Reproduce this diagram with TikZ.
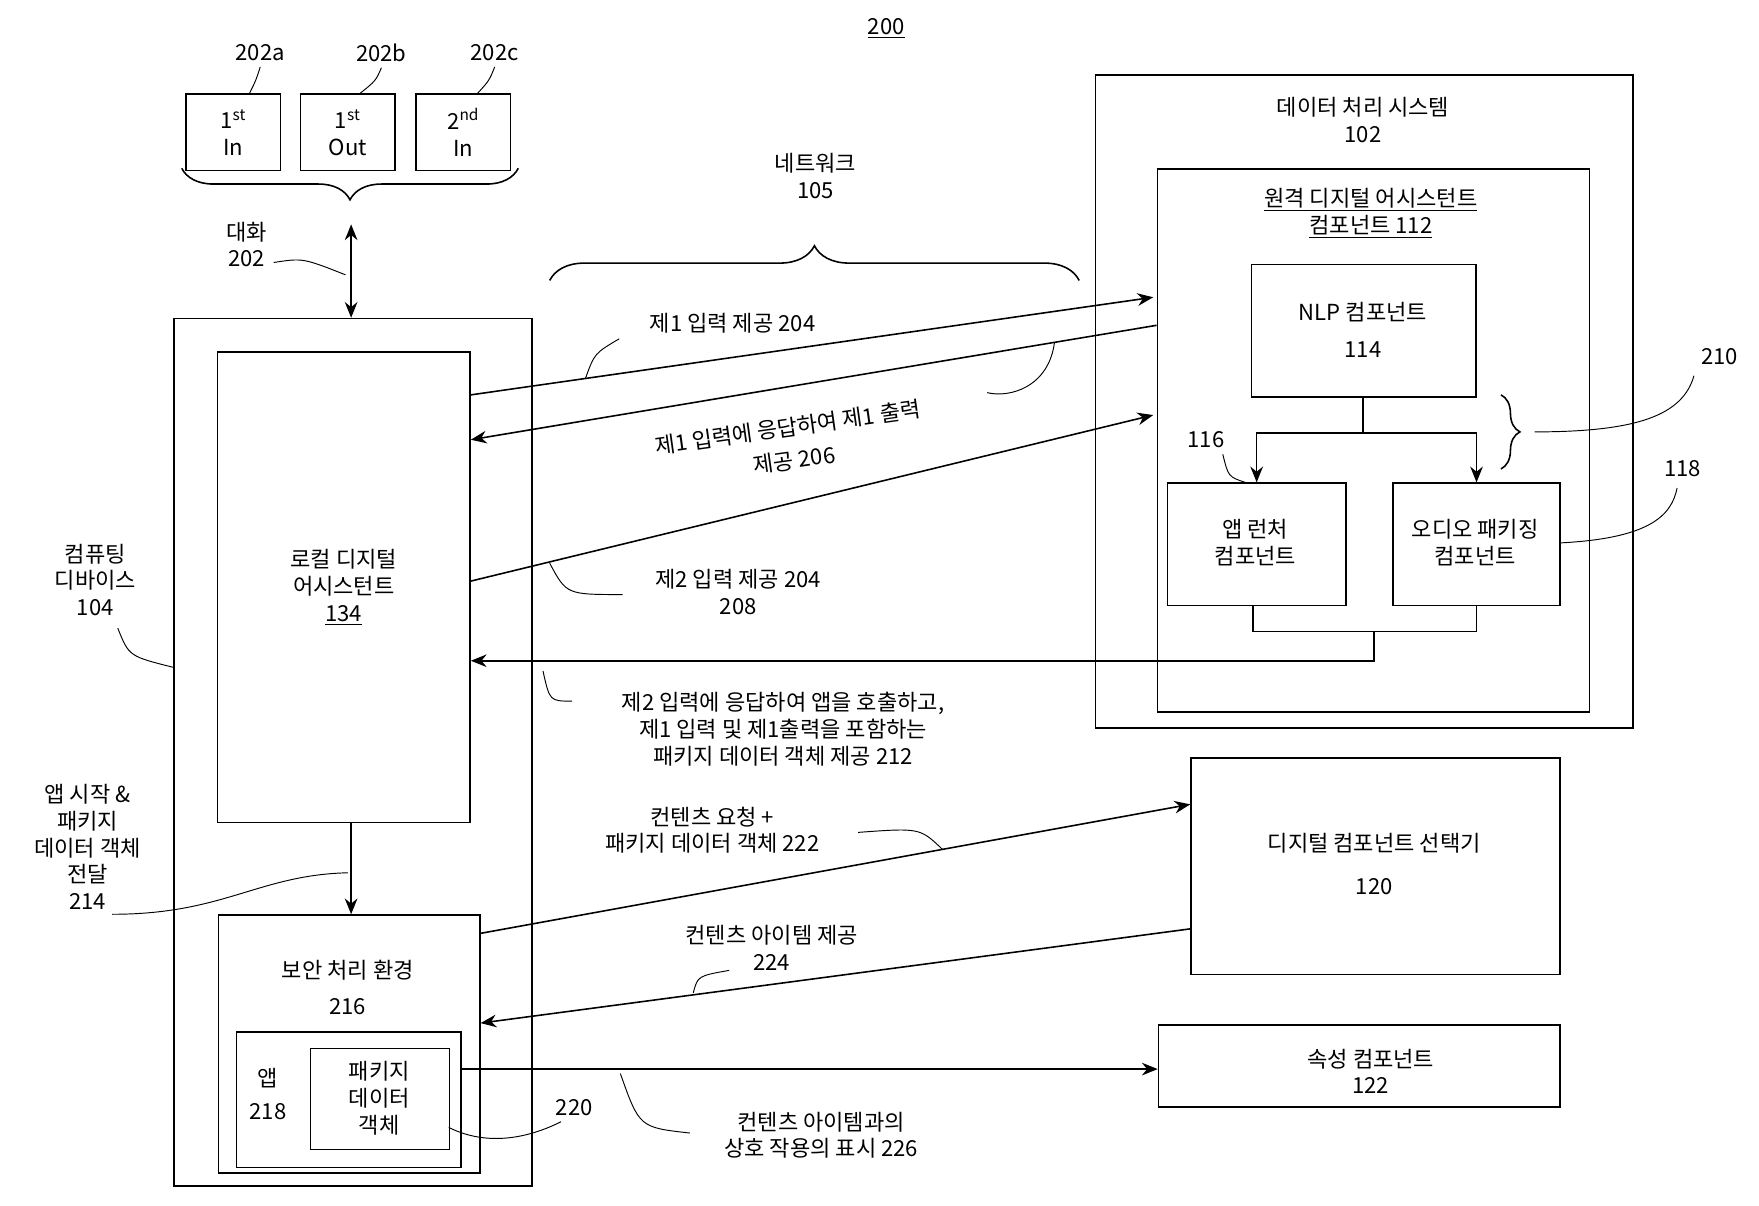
\documentclass[tikz,border=0pt]{standalone}
\usepackage{fontspec}
\setmainfont{Noto Sans CJK KR}
\usetikzlibrary{positioning,decorations.pathreplacing,arrows.meta}
\begin{document}
\begin{tikzpicture}[x=0.25mm,y=-0.25mm, line width=1pt,
    every node/.style={font=\fontsize{14}{17}\selectfont, align=center},
    box/.style={draw, inner sep=0pt},
    arr/.style={-{Stealth[length=10pt,width=8pt]}},
    lead/.style={line width=0.6pt}]

    % bounding box
    \useasboundingbox (0,0) rectangle (1568,1075);

    % conversation boxes
    \node (in1) [box, minimum width=21mm, minimum height=17mm] at (208,118) {1\textsuperscript{st}\\In};
    \node (out1) [box, minimum width=21mm, minimum height=17mm] at (310,118) {1\textsuperscript{st}\\Out};
    \node (in2) [box, minimum width=21mm, minimum height=17mm] at (413,118) {2\textsuperscript{nd}\\In};
    \node (l202a) at (232,47) {202a};
    \node (l202b) at (340,47) {202b};
    \node (l202c) at (441,47) {202c};
    \draw[lead] (l202a.south) .. controls (228,72) .. (222,84);
    \draw[lead] (l202b.south) .. controls (335,72) .. (320,84);
    \draw[lead] (l202c.south) .. controls (436,72) .. (425,84);
    \node at (790,25) {\underline{200}};
    \draw[decorate, decoration={brace, mirror, amplitude=20pt}] (162,150) -- (462,150);

    % computing device
    \node (dev) [box, minimum width=79.75mm, minimum height=193.25mm] at (314.5,670.5) {};
    \node (lda) [box, minimum width=56.25mm, minimum height=104.75mm] at (306.5,523.5) {로컬 디지털\\어시스턴트\\\underline{134}};
    \node (sec) [box, minimum width=58.25mm, minimum height=57.5mm, anchor=north west] at (194,815) {};
    \node at (310,880) {보안 처리 환경\\[6pt]216};
    \node (appbox) [box, minimum width=50mm, minimum height=30.25mm, anchor=north west] at (210,919) {};
    \node at (239,975) {앱\\[4pt]218};
    \node (pkg) [box, minimum width=31mm, minimum height=22.5mm, anchor=north west] at (276,934) {};
    \node at (338,979) {패키지\\데이터\\객체};

    % data processing system
    \node (dps) [box, minimum width=119.75mm, minimum height=145.5mm, anchor=north west] at (976,66) {};
    \node at (1215,107) {데이터 처리 시스템\\102};
    \node (rda) [box, minimum width=96.25mm, minimum height=121mm, anchor=north west] at (1031,150) {};
    \node at (1222,190) {\underline{원격 디지털 어시스턴트}\\\underline{컴포넌트 112}};
    \node (nlp) [box, minimum width=50mm, minimum height=29.5mm, anchor=north west] at (1115,235) {};
    \node at (1215,294) {NLP 컴포넌트\\[6pt]114};
    \node (alc) [box, minimum width=39.75mm, minimum height=27.25mm, anchor=north west] at (1040,430) {};
    \node at (1119,484) {앱 런처\\컴포넌트};
    \node (apc) [box, minimum width=37.25mm, minimum height=27.25mm, anchor=north west] at (1241,430) {};
    \node at (1315,484) {오디오 패키징\\컴포넌트};
    \node (dcs) [box, minimum width=82.25mm, minimum height=48.25mm, anchor=north west] at (1061,675) {};
    \node at (1225,770) {디지털 컴포넌트 선택기\\[10pt]120};
    \node (attr) [box, minimum width=89.5mm, minimum height=18.25mm, anchor=north west] at (1032,913) {};
    \node at (1222,955) {속성 컴포넌트\\122};

    % conversation arrow
    \draw[{Stealth[length=10pt,width=8pt]}-{Stealth[length=10pt,width=8pt]}] (313,200) -- (dev.north -| 313,0);
    \node at (220,218) {대화\\202};
    \draw[lead] (244,234) .. controls (270,230) .. (308,245);

    % network brace
    \draw[decorate, decoration={brace, amplitude=22pt}] (490,250) -- (962,250);
    \node at (727,157) {네트워크\\105};

    % NLP to launchers
    \coordinate (split) at (1215,386);
    \draw (nlp.south -| split) -- (split);
    \draw[arr] (split) -| (alc.north);
    \draw[arr] (split) -| (apc.north);
    \node at (1075,392) {116};
    \draw[lead] (1090,405) .. controls (1095,425) .. (1110,430);

    % 210 brace
    \draw[decorate, decoration={brace, amplitude=12pt}] (1338,352) -- (1338,418);
    \node at (1533,318) {210};
    \draw[lead] (1368,385) .. controls (1460,385) and (1500,370) .. (1510,335);
    \node at (1500,418) {118};
    \draw[lead] (1390,484) .. controls (1470,480) and (1490,460) .. (1495,435);

    % first input / output
    \draw[arr] (lda.east |- 0,352) -- (1028,265);
    \draw[arr] (1031,290) -- (lda.east |- 0,392);
    \node at (653,288) {제1 입력 제공  204};
    \draw[lead] (522,337) .. controls (530,315) .. (552,302);
    \node[rotate=8, inner sep=1pt] at (702,381) {제1 입력에 응답하여 제1 출력};
    \node[rotate=8, inner sep=1pt] at (708,410) {제공 206};
    \draw[lead] (940,305) .. controls (935,345) and (900,355) .. (880,350);

    % second input
    \draw[arr] (lda.east |- 0,518) -- (1028,370);
    \node at (658,528) {제2 입력 제공  204\\208};
    \draw[lead] (490,502) .. controls (505,530) .. (555,530);

    % return to local assistant
    \draw (alc.south -| 1117,0) |- (1316,563) -- (apc.south -| 1316,0);
    \draw[arr] (1225,563) |- (lda.east |- 0,589);
    \node at (698,650) {제2 입력에 응답하여 앱을 호출하고,\\제1 입력 및 제1출력을 포함하는\\패키지 데이터 객체 제공 212};
    \draw[lead] (484,598) .. controls (490,625) .. (510,625);

    % app launch
    \draw[arr] (lda.south -| 313,0) -- (sec.north -| 313,0);
    \node at (78,755) {앱 시작 \&\\패키지\\데이터 객체\\전달\\214};
    \draw[lead] (100,815) .. controls (200,815) and (230,780) .. (310,778);

    \node at (85,517) {컴퓨팅\\디바이스\\104};
    \draw[lead] (105,560) .. controls (115,585) .. (155,595);

    % content request / item
    \draw[arr] (sec.east |- 0,832) -- (dcs.west |- 0,717);
    \node at (635,740) {컨텐츠 요청 +\\패키지 데이터 객체  222};
    \draw[lead] (765,742) .. controls (820,738) .. (840,757);
    \draw[arr] (dcs.west |- 0,828) -- (sec.east |- 0,912);
    \node at (688,845) {컨텐츠 아이템 제공\\224};
    \draw[lead] (618,885) .. controls (622,870) .. (650,865);

    % interaction
    \draw[arr] (appbox.east |- 0,953) -- (attr.west |- 0,953);
    \node at (732,1012) {컨텐츠 아이템과의\\상호 작용의 표시 226};
    \draw[lead] (553,957) .. controls (570,1005) .. (615,1010);
    \node at (512,987) {220};
    \draw[lead] (400,1005) .. controls (440,1025) and (480,1010) .. (500,1000);
\end{tikzpicture}
\end{document}
